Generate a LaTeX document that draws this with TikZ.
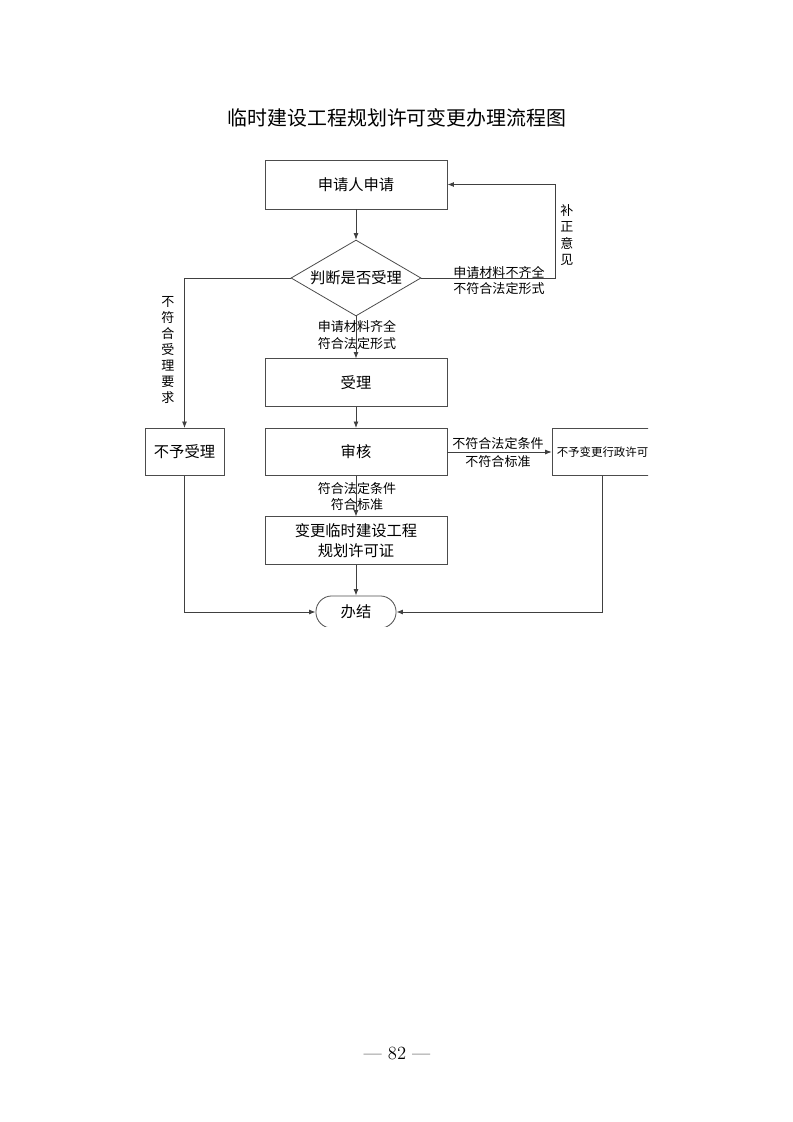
\documentclass[tikz,border=0pt]{standalone}
\usepackage{fontspec}
\newfontfamily\cjk{Noto Sans CJK SC}
\usetikzlibrary{shapes.geometric,arrows.meta}

\begin{document}
\begin{tikzpicture}[x=0.2646mm,y=-0.2646mm,line width=0.6pt,
	box/.style={draw=black!70,minimum width=48.2mm,minimum height=12.5mm,align=center,
		font=\cjk\fontsize{11.5}{15}\selectfont},
	judge/.style={draw=black!70,diamond,aspect=1.7,inner sep=0pt,minimum width=34.4mm,
		minimum height=20.1mm,font=\cjk\fontsize{11.5}{15}\selectfont},
	term/.style={draw=black!70,rounded corners=4.2mm,minimum width=21.2mm,minimum height=8.5mm,
		font=\cjk\fontsize{11.5}{15}\selectfont},
	lbl/.style={align=center,inner sep=0pt,font=\cjk\fontsize{9.8}{12.5}\selectfont},
	arr/.style={draw=black!75,-{Latex[length=1.7mm,width=1.3mm]}}]
	\useasboundingbox (0,0) rectangle (793,1122);

	% title
	\node[font=\cjk\fontsize{15}{18}\selectfont] (title) at (397,118) {临时建设工程规划许可变更办理流程图};

	% main column
	\node[box,minimum height=13mm] (apply) at (356,184.5) {申请人申请};
	\node[judge] (judge) at (356,278) {判断是否受理};
	\node[box] (accept) at (356,382.5) {受理};
	\node[box] (review) at (356,452) {审核};
	\node[box] (permit) at (356,540.5) {变更临时建设工程\\规划许可证};

	% side boxes
	\node[box,minimum width=20.9mm] (reject) at (184.5,452) {不予受理};
	\begin{scope}
		\clip (540,400) rectangle (648,500);
		\node[box,minimum width=26.7mm,font=\cjk\fontsize{8.6}{10}\selectfont] (deny) at (602.5,452) {不予变更行政许可};
	\end{scope}

	% end
	\begin{scope}
		\clip (300,585) rectangle (410,626.5);
		\node[term] (done) at (356,612) {办结};
	\end{scope}

	% corners
	\coordinate (fixr) at (555,278);

	% connectors
	\draw[arr] (apply) -- (judge);
	\draw[arr] (judge) -- (accept);
	\draw[arr] (accept) -- (review);
	\draw[arr] (review) -- (permit);
	\draw[arr] (permit) -- (done);
	\draw[arr] (judge.east) -- (fixr) |- (apply.east);
	\draw[arr] (judge.west) -| (reject.north);
	\draw[arr] (review.east) -- (deny.west);
	\draw[arr] (reject.south) |- (done.west);
	\draw[arr] (deny.south) |- (done.east);

	% labels
	\node[lbl] (lmiss) at (499,280.5) {申请材料不齐全\\不符合法定形式};
	\node[lbl,font=\cjk\fontsize{9.8}{12.5}\selectfont] (lfix) at (567,235) {补\\正\\意\\见};
	\node[lbl,font=\cjk\fontsize{9.8}{12}\selectfont] (lnot) at (168,350) {不\\符\\合\\受\\理\\要\\求};
	\node[lbl] (lok) at (357,335) {申请材料齐全\\符合法定形式};
	\node[lbl,font=\cjk\fontsize{9.8}{13}\selectfont] (lfail) at (498,452.5) {不符合法定条件\\不符合标准};
	\node[lbl] (lpass) at (357,496.5) {符合法定条件\\符合标准};

	% page number
	\node[font=\fontsize{14}{16}\selectfont] (page) at (397,1053) {--- 82 ---};
\end{tikzpicture}
\end{document}
